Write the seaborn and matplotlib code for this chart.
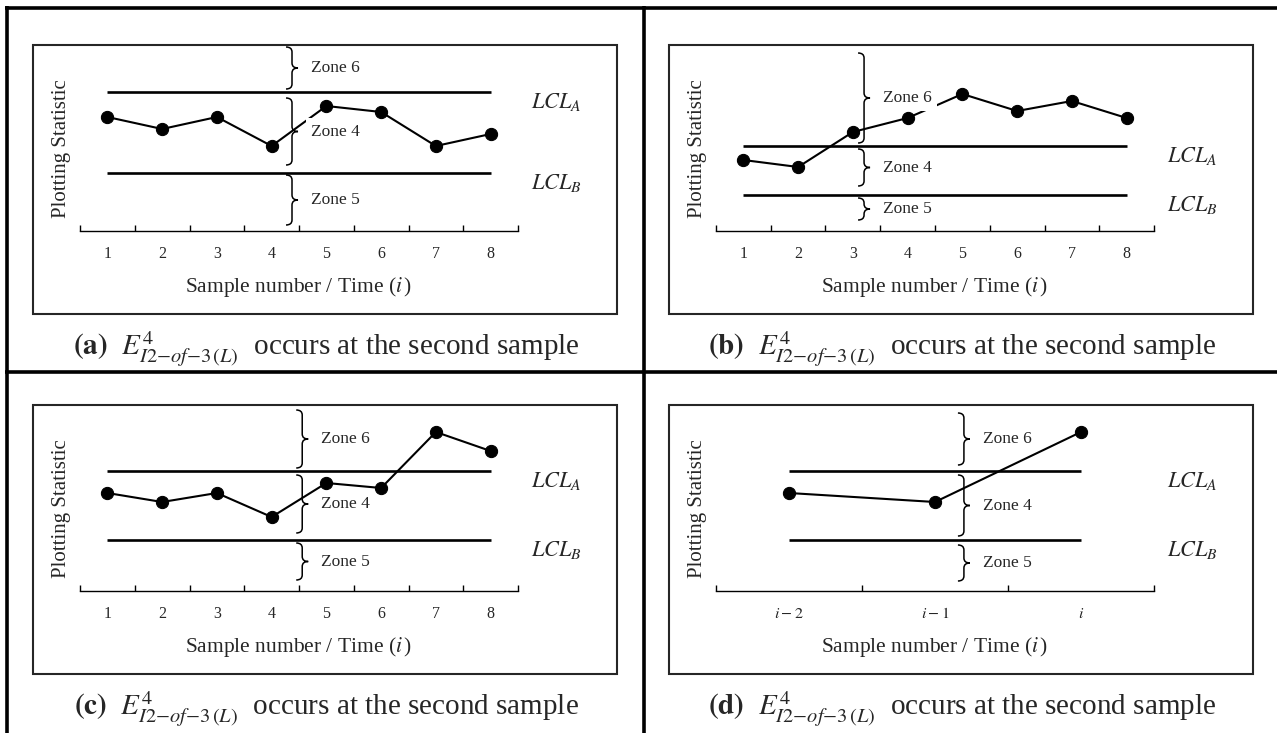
import numpy as np
import pandas as pd
import matplotlib
matplotlib.use("Agg")
import matplotlib.pyplot as plt
import seaborn as sns
from matplotlib.path import Path
from matplotlib.patches import PathPatch, Rectangle
from matplotlib.lines import Line2D
import matplotlib.transforms as mtransforms

# ------------------------------------------------------------------ data
samples_8 = [1, 2, 3, 4, 5, 6, 7, 8]
tick_labels_8 = ["1", "2", "3", "4", "5", "6", "7", "8"]
samples_3 = [1, 2, 3]
tick_labels_3 = [r"$i-2$", r"$i-1$", r"$i$"]

stat_a = [11.4, 10.2, 11.4, 8.5, 12.5, 11.9, 8.5, 9.7]
stat_b = [7.1, 6.4, 9.9, 11.3, 13.7, 12.0, 13.0, 11.3]
stat_c = [9.8, 8.9, 9.8, 7.4, 10.8, 10.3, 15.9, 14.0]
stat_d = [9.8, 8.9, 15.9]

lcl_A = [13.9, 8.5, 12.0, 12.0]
lcl_B = [5.8, 3.6, 5.1, 5.1]

zone_names = ["Zone 6", "Zone 4", "Zone 5"]
zones_a = [(14.2, 18.4), (6.6, 13.3), (0.6, 5.6)]
zones_b = [(8.8, 17.8), (4.5, 8.2), (1.1, 3.3)]
zones_c = [(12.3, 18.1), (5.8, 11.6), (1.1, 4.8)]
zones_d = [(12.6, 17.8), (5.5, 11.6), (1.0, 4.6)]

panel_letters = ["(a)", "(b)", "(c)", "(d)"]
caption_body = r"$E^{4}_{I2{-}of{-}3\,(L)}$  occurs at the second sample"
y_label = "Plotting Statistic"
x_label = r"Sample number / Time ($i\,$)"

# ------------------------------------------------------------------ style / layout
W, H, DPI = 1277, 733, 100
sns.set_theme(style="white")
plt.rcParams["font.family"] = ["Liberation Serif", "DejaVu Serif"]
plt.rcParams["mathtext.fontset"] = "stix"

BOX_W, BOX_H = 584, 269
AX_OFF = 186          # axis line below box top (px)
AX_L, AX_R = 47, 485  # axis line extent inside the box (px)
PX_PER_UNIT = 10.0
box_left = [33, 669, 33, 669]
box_top = [45, 45, 405, 405]
brace_x = [0.4435, 0.334, 0.461, 0.505]   # axes fraction
caption_xy = [(326, 349), (962, 349), (326, 709), (962, 709)]

panels = [
    (samples_8, tick_labels_8, stat_a, zones_a),
    (samples_8, tick_labels_8, stat_b, zones_b),
    (samples_8, tick_labels_8, stat_c, zones_c),
    (samples_3, tick_labels_3, stat_d, zones_d),
]

fig = plt.figure(figsize=(W / DPI, H / DPI), dpi=DPI)


def draw_brace(ax, xf, y0, y1, w_px=6.0, r=0.5):
    trans = mtransforms.blended_transform_factory(ax.transAxes, ax.transData)
    w = w_px / BOX_W
    ym = 0.5 * (y0 + y1)
    r = min(r, (y1 - y0) / 4.0)
    verts = [(xf - w, y1), (xf, y1), (xf, y1 - r), (xf, ym + r),
             (xf, ym), (xf + w, ym), (xf, ym), (xf, ym - r),
             (xf, y0 + r), (xf, y0), (xf - w, y0)]
    codes = [Path.MOVETO, Path.CURVE3, Path.CURVE3, Path.LINETO,
             Path.CURVE3, Path.CURVE3, Path.CURVE3, Path.CURVE3,
             Path.LINETO, Path.CURVE3, Path.CURVE3]
    ax.add_patch(PathPatch(Path(verts, codes), transform=trans, fill=False,
                           lw=1.1, ec="black", zorder=3, clip_on=False))
    return trans, ym


for i, (xs, xt, ys, zones) in enumerate(panels):
    l, t = box_left[i], box_top[i]
    ax = fig.add_axes([l / W, 1 - (t + BOX_H) / H, BOX_W / W, BOX_H / H])
    n = len(xs)
    unit = (AX_R - AX_L) / n
    ax.set_xlim(0.5 - AX_L / unit, 0.5 + (BOX_W - AX_L) / unit)
    ax.set_ylim(-(BOX_H - AX_OFF) / PX_PER_UNIT, AX_OFF / PX_PER_UNIT)

    df = pd.DataFrame({"sample": xs, "stat": ys})
    sns.lineplot(data=df, x="sample", y="stat", ax=ax, color="black",
                 marker="o", markersize=8.8, markeredgecolor="black",
                 linewidth=1.5, zorder=2)

    ax.hlines([lcl_A[i], lcl_B[i]], xs[0], xs[-1], color="black", lw=1.9, zorder=5)
    ytrans = ax.get_yaxis_transform()
    ax.text(0.852, lcl_A[i] - 1.0, r"$LCL_{A}$", transform=ytrans,
            ha="left", va="center", fontsize=16)
    ax.text(0.852, lcl_B[i] - 1.0, r"$LCL_{B}$", transform=ytrans,
            ha="left", va="center", fontsize=16)

    for name, (z0, z1) in zip(zone_names, zones):
        trans, ym = draw_brace(ax, brace_x[i], z0, z1)
        ax.text(brace_x[i] + 19.0 / BOX_W, ym, name, transform=trans,
                ha="left", va="center", fontsize=12.5, zorder=4,
                bbox=dict(boxstyle="square,pad=0.3", fc="white", ec="none"))

    # axes styling
    for s in ["left", "right", "top"]:
        ax.spines[s].set_visible(False)
    ax.spines["bottom"].set_position(("data", 0))
    ax.spines["bottom"].set_bounds(0.5, n + 0.5)
    ax.spines["bottom"].set_color("black")
    ax.spines["bottom"].set_linewidth(1.0)
    ax.set_xticks(xs)
    ax.set_xticklabels(xt)
    ax.set_xticks(np.arange(0.5, n + 1.0, 1.0), minor=True)
    ax.tick_params(axis="x", which="major", length=0, pad=11, labelsize=11.5,
                   bottom=True)
    ax.tick_params(axis="x", which="minor", direction="in", length=4,
                   width=1.0, color="black", bottom=True)
    ax.set_yticks([])
    ax.set_xlabel(x_label, fontsize=15.5, va="center")
    ax.xaxis.set_label_coords(0.455, 0.102)
    ax.set_ylabel(y_label, fontsize=15, va="center")
    ax.yaxis.set_label_coords(0.048, 0.615)

    ax.add_patch(Rectangle((0, 0), 1, 1, transform=ax.transAxes, fill=False,
                           lw=1.5, ec="#262626", clip_on=False, zorder=6))

    cx, cy = caption_xy[i]
    fig.text(cx / W, 1 - cy / H,
             r"$\mathbf{" + panel_letters[i] + r"}$  " + caption_body,
             ha="center", va="center", fontsize=21)

# table rules
def rule(x0, y0, x1, y1):
    fig.add_artist(Line2D([x0 / W, x1 / W], [1 - y0 / H, 1 - y1 / H],
                          transform=fig.transFigure, lw=2.6, color="black",
                          solid_capstyle="butt"))

rule(5, 7.5, W, 7.5)
rule(7, 6, 7, H)
rule(644, 6, 644, H)
rule(5, 372, W, 372)

fig.savefig("out.png", dpi=DPI, facecolor="white")
